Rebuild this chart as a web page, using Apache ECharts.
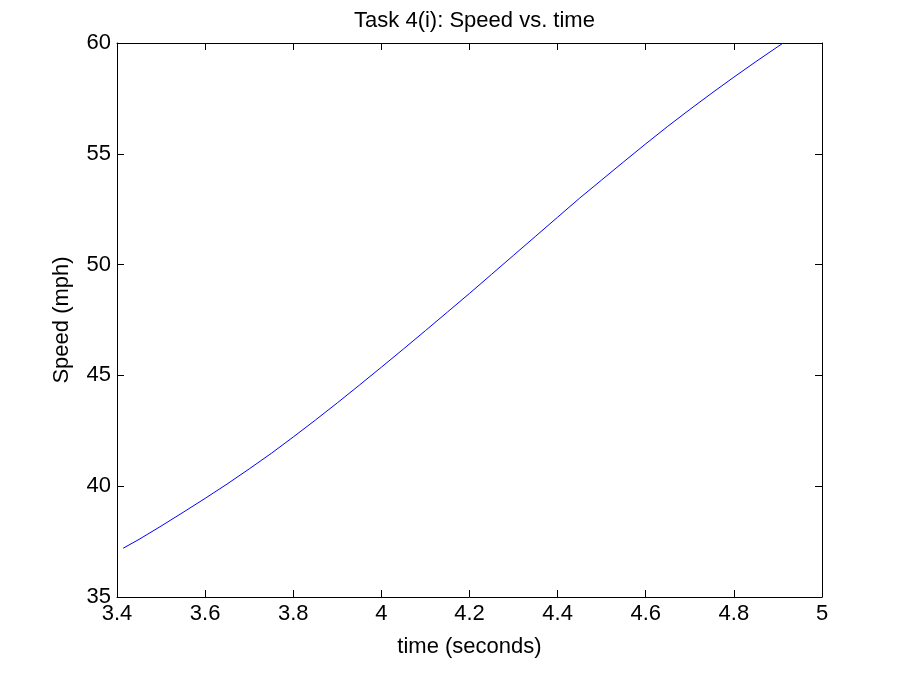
<!DOCTYPE html>
<html>
<head>
<meta charset="utf-8">
<title>Speed vs. time</title>
<script src="https://cdn.jsdelivr.net/npm/echarts@6/dist/echarts.min.js"></script>
<style>
  html, body { margin: 0; padding: 0; background: #fff; }
  #chart { width: 904px; height: 677px; }
</style>
</head>
<body>
<div id="chart"></div>
<script>
// Sampled speed trace (time in seconds, speed in mph)
const timeSeconds = [3.414, 3.45, 3.50, 3.55, 3.60, 3.65, 3.70, 3.75, 3.80, 3.85,
                     3.90, 3.95, 4.00, 4.05, 4.10, 4.15, 4.20, 4.25, 4.30, 4.35,
                     4.40, 4.45, 4.50, 4.55, 4.60, 4.65, 4.70, 4.75, 4.80, 4.85,
                     4.90, 4.912];
const speedMph    = [37.20, 37.60, 38.20, 38.82, 39.45, 40.10, 40.78, 41.48, 42.22, 42.98,
                     43.76, 44.56, 45.37, 46.19, 47.02, 47.86, 48.70, 49.56, 50.42, 51.28,
                     52.14, 53.00, 53.82, 54.64, 55.45, 56.24, 57.00, 57.74, 58.46, 59.16,
                     59.84, 60.00];

// Axis ranges and tick spacing
const xRange = { min: 3.4, max: 5, step: 0.2 };
const yRange = { min: 35, max: 60, step: 5 };

const FONT = '"Liberation Sans", Arial, Helvetica, sans-serif';
const TEXT_SIZE = 22;

const fmt = v => String(parseFloat(Number(v).toFixed(1)));

const frameAxis = (pos, showLabels, range) => ({
  type: 'value',
  position: pos,
  min: range.min,
  max: range.max,
  interval: range.step,
  axisLine: { show: true, onZero: false, lineStyle: { color: '#000', width: 1 } },
  axisTick: { show: true, inside: true, length: 7, lineStyle: { color: '#000', width: 1 } },
  axisLabel: {
    show: showLabels,
    formatter: fmt,
    color: '#000',
    fontFamily: FONT,
    fontSize: TEXT_SIZE,
    margin: pos === 'bottom' ? 6 : 6
  },
  splitLine: { show: false }
});

const chart = echarts.init(document.getElementById('chart'), null, { renderer: 'canvas' });

const xBottom = Object.assign(frameAxis('bottom', true, xRange), {
  name: 'time (seconds)',
  nameLocation: 'middle',
  nameGap: 39,
  nameTextStyle: { color: '#000', fontFamily: FONT, fontSize: TEXT_SIZE }
});
const yLeft = Object.assign(frameAxis('left', true, yRange), {
  name: 'Speed (mph)',
  nameLocation: 'middle',
  nameGap: 44,
  nameTextStyle: { color: '#000', fontFamily: FONT, fontSize: TEXT_SIZE }
});

chart.setOption({
  animation: false,
  backgroundColor: '#fff',
  title: {
    text: 'Task 4(i): Speed vs. time',
    left: 469.5,
    top: 5,
    textAlign: 'center',
    textStyle: { color: '#000', fontFamily: FONT, fontSize: TEXT_SIZE, fontWeight: 'normal' }
  },
  grid: { left: 117, right: 82, top: 43, bottom: 80, containLabel: false },
  xAxis: [xBottom, frameAxis('top', false, xRange)],
  yAxis: [yLeft, frameAxis('right', false, yRange)],
  series: [{
    type: 'line',
    xAxisIndex: 0,
    yAxisIndex: 0,
    data: timeSeconds.map((t, i) => [t, speedMph[i]]),
    showSymbol: false,
    symbol: 'none',
    lineStyle: { color: '#0000ff', width: 1 },
    clip: true
  }]
});
</script>
</body>
</html>
